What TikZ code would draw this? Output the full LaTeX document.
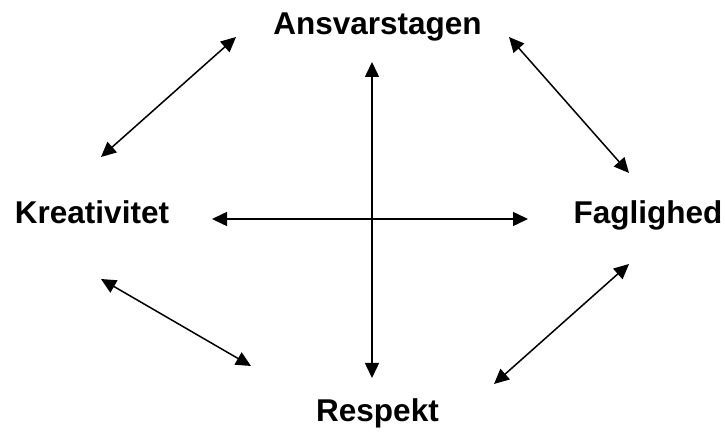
\documentclass[tikz,border=0pt]{standalone}
\usepackage{fontspec}
\setmainfont{Liberation Sans}
\usetikzlibrary{arrows.meta}

\tikzset{
  word/.style={anchor=base, inner sep=0pt, font=\fontsize{31.5}{37}\selectfont\bfseries},
}

\begin{document}
\begin{tikzpicture}[x=1pt, y=-1pt, line width=1.5pt, >={Triangle[length=15pt,width=14pt]}]
    \useasboundingbox (0,0) rectangle (726,435);

    % Define the four words
    \node[word] (ansvar) at (377.5,35) {Ansvarstagen};
    \node[word] (kreativ) at (92,224) {Kreativitet};
    \node[word] (fag) at (648,224) {Faglighed};
    \node[word] (respekt) at (377.5,422) {Respekt};

    % Define arrow ends
    \coordinate (tl1) at (101,157);
    \coordinate (tl2) at (236,37);
    \coordinate (tr1) at (509,37);
    \coordinate (tr2) at (629,173);
    \coordinate (bl1) at (101,279);
    \coordinate (bl2) at (251,366);
    \coordinate (br1) at (629,264);
    \coordinate (br2) at (494,384);
    \coordinate (h1) at (212,219);
    \coordinate (h2) at (528,219);
    \coordinate (v1) at (372,62);
    \coordinate (v2) at (372,378);

    % Draw the arrows
    \draw[<->] (tl1) -- (tl2);
    \draw[<->] (tr1) -- (tr2);
    \draw[<->] (bl1) -- (bl2);
    \draw[<->] (br1) -- (br2);
    \draw[<->] (h1) -- (h2);
    \draw[<->] (v1) -- (v2);
\end{tikzpicture}
\end{document}
